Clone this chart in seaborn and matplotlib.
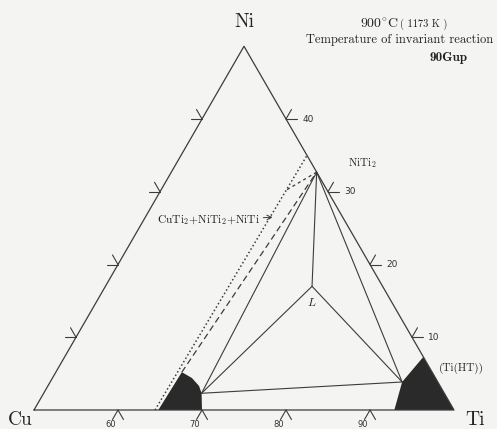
import numpy as np
import pandas as pd
import matplotlib
matplotlib.use('Agg')
import matplotlib.pyplot as plt
import seaborn as sns

# compositions in at.% (Ti, Ni), Cu is the balance
corner_names = ['Cu', 'Ti', 'Ni']
corner_ti = [50, 100, 50]
corner_ni = [0, 0, 50]

side_ticks = [10, 20, 30, 40]      # at.% Ni on both slanted sides
bottom_ticks = [60, 70, 80, 90]    # at.% Ti on the Cu-Ti side

# invariant points
point_names = ['NiTi2', 'L', 'CuTi2', 'TiHT']
point_ti = [67.3, 74.6, 68.8, 91.9]
point_ni = [32.7, 17.0, 2.3, 3.85]

# solid tie lines between invariant points
tie_start = ['NiTi2', 'NiTi2', 'NiTi2', 'L', 'L', 'CuTi2']
tie_end = ['L', 'CuTi2', 'TiHT', 'CuTi2', 'TiHT', 'TiHT']

# single phase fields
cuti2_ti = [64.8, 65.0, 66.6, 68.0, 68.8, 70.0]
cuti2_ni = [0.0, 5.2, 4.4, 3.3, 2.3, 0.0]
tiht_ti = [92.9, 91.9, 92.7, 100.0]
tiht_ni = [0.0, 3.85, 7.3, 0.0]

# CuTi2+NiTi2+NiTi boundaries
dotted_ti = [64.4, 65.0]
dotted_ni = [0.0, 35.0]
dashed_ti = [65.0, 67.3]
dashed_ni = [5.2, 32.7]
short_ti = [67.3, 64.9]
short_ni = [32.7, 30.2]

S3 = np.sqrt(3) / 2
PX = 1 / 840  # one pixel in data units


def to_xy(ti, ni):
    ti = np.asarray(ti, dtype=float) / 100
    ni = np.asarray(ni, dtype=float) / 100
    return ti + ni / 2, ni * S3


sns.set_theme(style='white')
plt.rcParams['font.family'] = ['cmr10', 'DejaVu Serif']
plt.rcParams['mathtext.fontset'] = 'cm'
plt.rcParams['axes.unicode_minus'] = False

line_c = '#3c3c3c'
bg = '#f4f4f2'

fig = plt.figure(figsize=(4.97, 4.29), dpi=100, facecolor=bg)
ax = fig.add_axes([0, 0, 1, 1])
ax.set_facecolor(bg)

# triangle outline
cx, cy = to_xy(corner_ti + corner_ti[:1], corner_ni + corner_ni[:1])
ax.plot(cx, cy, color=line_c, lw=0.9)

# ticks drawn parallel to the other two sides
L = 11 * PX
for n in side_ticks:
    px, py = to_xy(50, n)
    for dx, dy in [(-1, 0), (-0.5, S3)]:
        ax.plot([px, px + L * dx], [py, py + L * dy], color=line_c, lw=0.8)
    px, py = to_xy(100 - n, n)
    for dx, dy in [(1, 0), (0.5, S3)]:
        ax.plot([px, px + L * dx], [py, py + L * dy], color=line_c, lw=0.8)
    ax.text(px + 22 * PX, py, str(n), family='DejaVu Sans', fontsize=6.5,
            color='#333333', ha='center', va='center')
for t in bottom_ticks:
    px, py = to_xy(t, 0)
    for dx, dy in [(-0.5, -S3), (0.5, -S3)]:
        ax.plot([px, px + L * dx], [py, py + L * dy], color=line_c, lw=0.8)
    ax.text(px - 7 * PX, py - 14.5 * PX, str(t), family='DejaVu Sans', fontsize=6,
            color='#333333', ha='center', va='center')

# solid tie lines through seaborn
pts = dict(zip(point_names, zip(point_ti, point_ni)))
rows = []
for i, (a, b) in enumerate(zip(tie_start, tie_end)):
    for name in (a, b):
        x, y = to_xy(*pts[name])
        rows.append({'seg': i, 'x': float(x), 'y': float(y)})
ties = pd.DataFrame(rows)
sns.lineplot(data=ties, x='x', y='y', units='seg', estimator=None, sort=False,
             color=line_c, lw=0.8, ax=ax)

# boundaries of the three phase field
x, y = to_xy(dotted_ti, dotted_ni)
ax.plot(x, y, color=line_c, lw=1.1, ls=(0, (1, 1.6)))
x, y = to_xy(dashed_ti, dashed_ni)
ax.plot(x, y, color=line_c, lw=0.9, ls=(0, (5, 3)))
x, y = to_xy(short_ti, short_ni)
ax.plot(x, y, color=line_c, lw=0.9, ls=(0, (2.5, 2.5)))

# single phase fields
x, y = to_xy(cuti2_ti, cuti2_ni)
ax.fill(x, y, color='#2a2a2a', lw=0)
x, y = to_xy(tiht_ti, tiht_ni)
ax.fill(x, y, color='#2a2a2a', lw=0)

# corner labels
for name, t, n, ox, oy in zip(corner_names, corner_ti, corner_ni,
                              [-14, 21, 0], [-10, -10, 24]):
    x, y = to_xy(t, n)
    ax.text(x + ox * PX, y + oy * PX, name, fontsize=14, ha='center', va='center',
            color='#222222')

# phase labels
x, y = to_xy(*pts['NiTi2'])
ax.text(x + 46 * PX, y + 9 * PX, r'NiTi$_2$', fontsize=8, ha='center', va='center',
        color='#222222')
x, y = to_xy(*pts['L'])
ax.text(x, y - 16 * PX, r'$L$', fontsize=8.5, ha='center', va='center', color='#222222')
x, y = to_xy(*tiht_ti[2:3], *tiht_ni[2:3])
ax.text(x + 38 * PX, y - 11 * PX, '(Ti(HT))', fontsize=8, ha='center', va='center',
        color='#222222')

# label with arrow pointing at the narrow three phase field
x, y = to_xy(65.15, 26.5)
ax.annotate(r'CuTi$_2$+NiTi$_2$+NiTi', xy=(x, y), xytext=(x - 64 * PX, y - 3 * PX),
            fontsize=8.3, ha='center', va='center', color='#222222',
            arrowprops=dict(arrowstyle='->', color=line_c, lw=0.7,
                            shrinkA=54, shrinkB=0))

# header text
def pix(px, py):
    return 0.5 + (px - 34) * PX, (410 - py) * PX

ax.text(*pix(379, 24), r'900$^{\circ}$C', fontsize=10, ha='center', va='center',
        color='#222222')
ax.text(*pix(424, 24), '( 1173 K )', fontsize=7.5, ha='center', va='center',
        color='#222222')
ax.text(*pix(400, 40), 'Temperature of invariant reaction', fontsize=9,
        ha='center', va='center', color='#222222')
ax.text(*pix(449, 58), '90Gup', fontsize=9.5, ha='center', va='center',
        family=['cmb10', 'DejaVu Serif'], color='#222222')

ax.set_xlim(*[0.5 + (p - 34) * PX for p in (0, 497)])
ax.set_ylim(*[(410 - p) * PX for p in (429, 0)])
ax.set_aspect('auto')
ax.axis('off')

fig.savefig('out.png', dpi=100, facecolor=bg)
